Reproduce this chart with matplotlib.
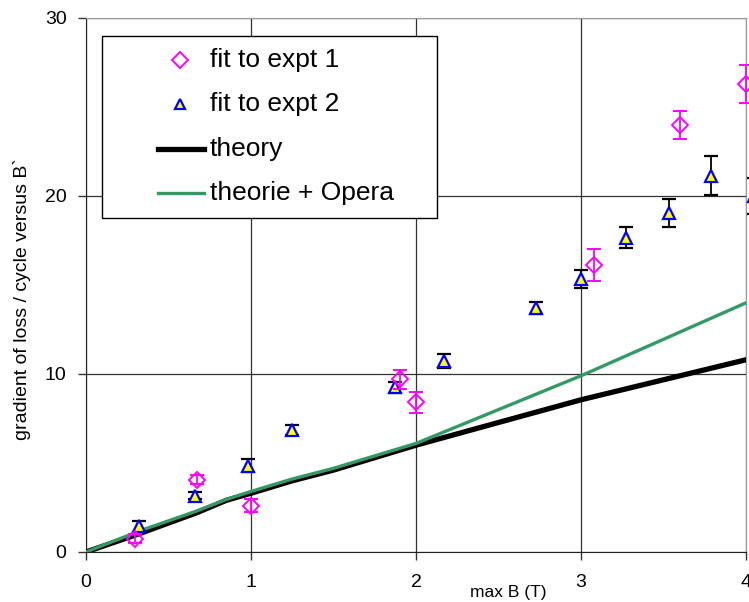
import numpy as np
import matplotlib.pyplot as plt
from matplotlib.patches import Rectangle

plt.rcParams['font.family'] = ['Liberation Sans', 'DejaVu Sans']

# fit to expt 1 (pink diamonds)
x1 = [0.30, 0.67, 1.00, 1.90, 2.00, 3.08, 3.60, 4.00]
y1 = [0.75, 4.05, 2.6, 9.7, 8.4, 16.1, 24.0, 26.3]
e1 = [0.25, 0.25, 0.35, 0.55, 0.6, 0.9, 0.8, 1.05]

# fit to expt 2 (triangles)
x2 = [0.32, 0.66, 0.98, 1.25, 1.87, 2.17, 2.73, 3.00, 3.27, 3.53, 3.79, 4.05]
y2 = [1.45, 3.15, 4.85, 6.85, 9.25, 10.75, 13.7, 15.35, 17.65, 19.05, 21.15, 20.0]
e2 = [0.3, 0.2, 0.35, 0.3, 0.3, 0.4, 0.35, 0.5, 0.6, 0.8, 1.1, 1.0]

# theory curves
xt = [0, 0.33, 0.67, 0.85, 1.0, 1.25, 1.5, 2.0, 3.0, 4.0]
yt = [0, 1.05, 2.2, 2.9, 3.3, 4.0, 4.6, 6.0, 8.55, 10.8]
xo = [0, 0.33, 0.67, 0.85, 1.0, 1.25, 1.5, 2.0, 3.0, 4.0]
yo = [0, 1.2, 2.3, 2.95, 3.4, 4.1, 4.7, 6.1, 9.9, 14.0]

labels = ['fit to expt 1', 'fit to expt 2', 'theory', 'theorie + Opera']

fig = plt.figure(figsize=(7.49, 6.02), dpi=100)
ax = fig.add_axes([0.1148, 0.0831, 0.8813, 0.887])

ax.plot(xt, yt, color='black', lw=3.8, zorder=3)
ax.plot(xo, yo, color='#339966', lw=2.4, zorder=4)

tri = dict(marker='^', ms=8.5, mfc='yellow', mec='blue', mew=1.6)
dia = dict(marker='D', ms=8.5, mfc='none', mec='magenta', mew=1.4)

ax.errorbar(x2, y2, yerr=e2, ls='none', **tri,
            ecolor='black', elinewidth=1.3, capsize=5, capthick=1.3,
            zorder=5, clip_on=False)
ax.errorbar(x1, y1, yerr=e1, ls='none', **dia,
            ecolor='magenta', elinewidth=1.3, capsize=5, capthick=1.3,
            zorder=6, clip_on=False)

ax.set_xlim(0, 4)
ax.set_ylim(0, 30)
ax.set_xticks([0, 1, 2, 3, 4])
ax.set_yticks([0, 10, 20, 30])
ax.grid(True, color='#333333', lw=0.9)
ax.set_axisbelow(True)
ax.tick_params(labelsize=14, length=6, width=1, color='#333333')
ax.tick_params(axis='x', pad=10)
ax.tick_params(axis='y', pad=8)
for s in ['top', 'right']:
    ax.spines[s].set_color('#999999')
for s in ['left', 'bottom']:
    ax.spines[s].set_color('#222222')

fig.text(0.029, 0.503, 'gradient of loss / cycle versus B`', fontsize=14,
         rotation=90, ha='center', va='center')
fig.text(0.678, 0.0166, 'max B (T)', fontsize=12.5, ha='center', va='center')

# legend box drawn by hand (axes fraction)
T = ax.transAxes
ax.add_patch(Rectangle((0.0242, 0.6255), 0.508, 0.3405, transform=T,
                       facecolor='white', edgecolor='black', lw=1.0, zorder=10))
rows = [0.921, 0.839, 0.755, 0.672]
ax.plot([0.1424], [rows[0]], transform=T, ls='none', zorder=11, clip_on=False, **dia)
ax.plot([0.1424], [rows[1]], transform=T, ls='none', zorder=11, clip_on=False,
        **dict(tri, ms=7))
ax.plot([0.109, 0.1788], [rows[2]] * 2, transform=T, color='black', lw=3.8, zorder=11)
ax.plot([0.109, 0.1788], [rows[3]] * 2, transform=T, color='#339966', lw=2.4, zorder=11)
for r, lab in zip(rows, labels):
    ax.text(0.1879, r, lab, transform=T, fontsize=19, va='center', ha='left', zorder=12)

fig.savefig('out.png', dpi=100)
